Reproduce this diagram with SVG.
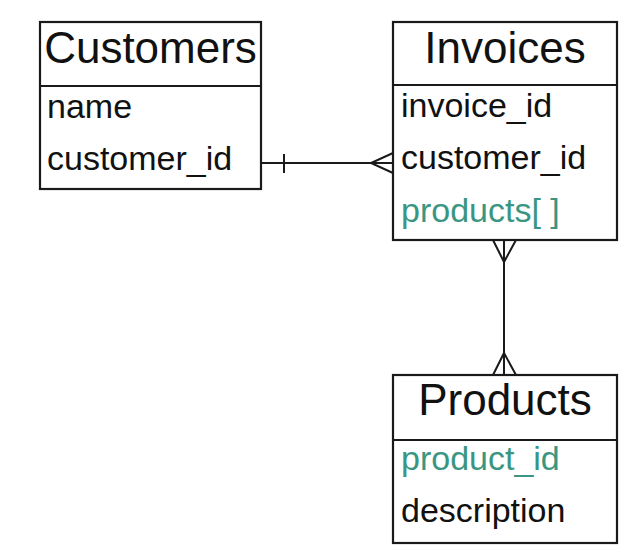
<svg xmlns="http://www.w3.org/2000/svg" width="623" height="552" viewBox="0 0 623 552">
<style>
.box{fill:#fff;stroke:#1a1a1a;stroke-width:2.2}
.ln{fill:none;stroke:#1a1a1a;stroke-width:2}
.title{font-family:"Liberation Sans",Arial,sans-serif;font-size:44px;fill:#111}
.f{font-family:"Liberation Sans",Arial,sans-serif;font-size:34px;fill:#111}
.k{fill:#3a9682}
</style>
<rect width="623" height="552" fill="#fff"/>
<g id="customers">
<rect class="box" x="40" y="22" width="221" height="167"/>
<line class="ln" x1="40" y1="86" x2="261" y2="86"/>
<text class="title" x="150.5" y="63" text-anchor="middle">Customers</text>
<text class="f" x="47" y="118">name</text>
<text class="f" x="47" y="170">customer_id</text>
</g>
<g id="invoices">
<rect class="box" x="393" y="22" width="224" height="218"/>
<line class="ln" x1="393" y1="85" x2="617" y2="85"/>
<text class="title" x="505" y="63" text-anchor="middle">Invoices</text>
<text class="f" x="401" y="117">invoice_id</text>
<text class="f" x="401" y="169">customer_id</text>
<text class="f k" x="401" y="222">products[ ]</text>
</g>
<g id="products">
<rect class="box" x="393" y="375" width="224" height="168"/>
<line class="ln" x1="393" y1="440" x2="617" y2="440"/>
<text class="title" x="505" y="415" text-anchor="middle">Products</text>
<text class="f k" x="401" y="470">product_id</text>
<text class="f" x="401" y="522">description</text>
</g>
<g id="connectors">
<line class="ln" x1="261" y1="163" x2="393" y2="163"/>
<line class="ln" x1="284" y1="154" x2="284" y2="173"/>
<polyline class="ln" points="393,153 371,163 393,173"/>
<line class="ln" x1="504" y1="240" x2="504" y2="375"/>
<polyline class="ln" points="493,240 504,262 516,240"/>
<polyline class="ln" points="493,375 504,353 516,375"/>
</g>
</svg>
